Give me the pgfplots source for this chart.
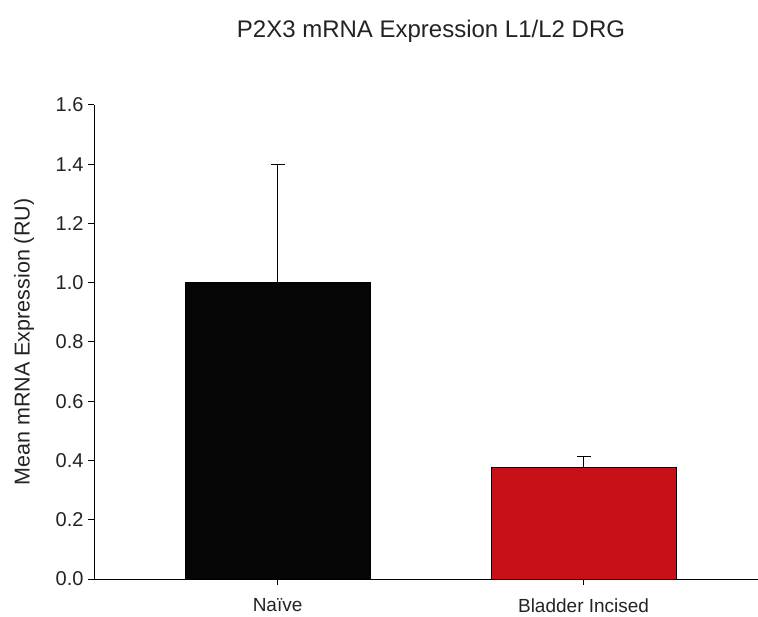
\documentclass[border=0pt]{standalone}
\usepackage{pgfplots}
\pgfplotsset{compat=1.18}
\usepackage{fontspec}
\setmainfont{Liberation Sans}
\definecolor{barred}{RGB}{200,16,24}
\definecolor{txt}{RGB}{35,35,35}
\begin{document}
\begin{tikzpicture}
\useasboundingbox (0,0) rectangle (758bp,617bp);
\begin{axis}[
  at={(94bp,38bp)}, anchor=south west,
  scale only axis, width=664bp, height=474bp,
  xmin=-0.6, xmax=1.57, ymin=0, ymax=1.6,
  axis x line*=bottom, axis y line*=left,
  axis line style={line width=1bp, black},
  xtick={0,1}, xticklabels={Naïve, Bladder Incised},
  ytick={0,0.2,0.4,0.6,0.8,1.0,1.2,1.4,1.6},
  tick align=outside, major tick length=6bp,
  tick style={black, line width=1bp},
  /pgf/number format/assume math mode=true,
  yticklabel style={/pgf/number format/.cd, fixed, fixed zerofill, precision=1, /tikz/.cd,
    font=\fontsize{20bp}{23bp}\selectfont, text=txt, xshift=-1bp},
  xticklabel style={font=\fontsize{19bp}{22bp}\selectfont, text=txt, yshift=-10bp},
  ylabel={Mean mRNA Expression (RU)},
  ylabel style={font=\fontsize{21.5bp}{25bp}\selectfont, text=txt, at={(-70bp,0.5)}, anchor=center, rotate=0},
  title={P2X3 mRNA Expression L1/L2 DRG},
  title style={font=\fontsize{24bp}{28bp}\selectfont, text=txt, at={(0.5075,1)}, anchor=center, yshift=68bp},
  clip=false,
]
\addplot[ybar, bar width=185bp, bar shift=0pt, fill=black!98, draw=black, line width=0.8bp,
  error bars/.cd, y dir=plus, y explicit, error mark=|,
  error bar style={black, line width=1bp},
  error mark options={black, mark size=7bp, line width=1bp}]
  coordinates {(0,1.0) +- (0,0.40)};
\addplot[ybar, bar width=185bp, bar shift=0pt, fill=barred, draw=black, line width=0.8bp,
  error bars/.cd, y dir=plus, y explicit, error mark=|,
  error bar style={black, line width=1bp},
  error mark options={black, mark size=7bp, line width=1bp}]
  coordinates {(1,0.376) +- (0,0.037)};
\end{axis}
\end{tikzpicture}
\end{document}
